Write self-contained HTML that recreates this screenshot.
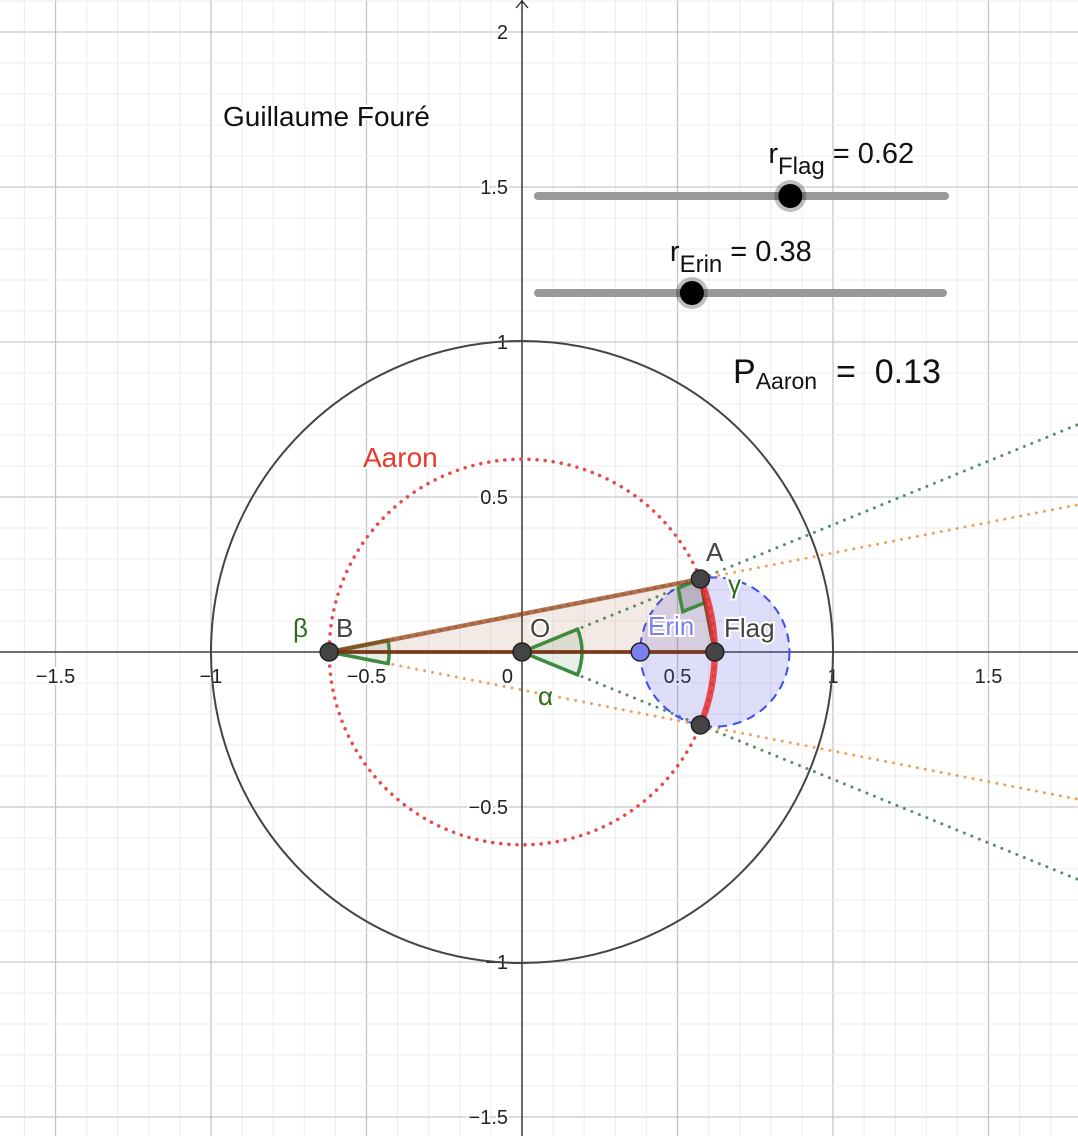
<!DOCTYPE html>
<html><head><meta charset="utf-8"><style>
html,body{margin:0;padding:0;background:#fff;}
svg{display:block;font-family:"Liberation Sans",sans-serif;}
</style></head><body>
<svg id="c" width="1078" height="1136" viewBox="0 0 1078 1136"></svg>
<script>
const rFlagVals=[0.62];
const rErinVals=[0.38];
const pAaronVals=[0.13];
const xTicks=[-1.5,-1,-0.5,0,0.5,1,1.5];
const yTicks=[-1.5,-1,-0.5,0.5,1,1.5,2];
const rFlag=rFlagVals[0], rErin=rErinVals[0], pAaron=pAaronVals[0];
const S=311, SY=310, OX=522, OY=652;
function X(x){return OX+x*S;}
function Y(y){return OY-y*SY;}
const svg=document.getElementById('c');
const NS='http://www.w3.org/2000/svg';
function el(t,a,p){const e=document.createElementNS(NS,t);for(const k in a)e.setAttribute(k,a[k]);(p||svg).appendChild(e);return e;}
const g=el('g',{});


for(let i=-17;i<=18;i++){const x=X(i/10);el('line',{x1:x,y1:0,x2:x,y2:1136,stroke:i%5==0?'#c6c6c6':'#ececec','stroke-width':i%5==0?1.3:1},g);}
for(let i=-16;i<=21;i++){const y=Y(i/10);el('line',{x1:0,y1:y,x2:1078,y2:y,stroke:i%5==0?'#c6c6c6':'#ececec','stroke-width':i%5==0?1.3:1},g);}
const ax=el('line',{x1:0,y1:OY,x2:1078,y2:OY,stroke:'#222','stroke-width':1.3});

const ay=el('line',{x1:OX,y1:0,x2:OX,y2:1136,stroke:'#222','stroke-width':1.3});

el('path',{d:`M${OX-6} 8 L${OX} 1 L${OX+6} 8`,fill:'none',stroke:'#222','stroke-width':1.3});
xTicks.forEach(v=>{const t=el('text',{x:v==0?X(v)-9:X(v),y:OY+31,'font-size':20,'text-anchor':v==0?'end':'middle',fill:'#222','paint-order':'stroke',stroke:'#fff','stroke-width':4});t.textContent=v==0?'0':String(v).replace('-','−');
});
yTicks.forEach(v=>{const t=el('text',{x:OX-14,y:Y(v)+7,'font-size':20,'text-anchor':'end',fill:'#222','paint-order':'stroke',stroke:'#fff','stroke-width':4});t.textContent=String(v).replace('-','−');
});
const rE=rFlag-rErin;
const ax_=(rFlag*rFlag+rFlag*rFlag-rE*rE)/(2*rFlag);
const ay_=Math.sqrt(rFlag*rFlag-ax_*ax_);
const A=[ax_,ay_],Am=[ax_,-ay_],B=[-rFlag,0],F=[rFlag,0],E=[rErin,0];
function ray(p,q,col,name){const dx=q[0]-p[0],dy=q[1]-p[1];const t=(1.8-p[0])/dx;
const l=el('line',{x1:X(p[0]),y1:Y(p[1]),x2:X(p[0]+dx*t),y2:Y(p[1]+dy*t),stroke:col,'stroke-width':3,'stroke-dasharray':'0.1 8','stroke-linecap':'round'});
}
ray([0,0],A,'#5a8f6e','ray-o-a');ray([0,0],Am,'#5a8f6e','ray-o-a2');
ray(B,A,'#f0a060','ray-b-a');ray(B,Am,'#f0a060','ray-b-a2');
const uc=el('circle',{cx:X(0),cy:Y(0),r:S,fill:'none',stroke:'#444','stroke-width':2});

const ac=el('circle',{cx:X(0),cy:Y(0),r:rFlag*S,fill:'none',stroke:'#e84a4a','stroke-width':3.5,'stroke-dasharray':'0.1 8','stroke-linecap':'round'});

const ec=el('circle',{cx:X(rFlag),cy:Y(0),r:rE*S,fill:'rgba(90,90,230,0.2)',stroke:'#3a4ef0','stroke-width':2,'stroke-dasharray':'9 6'});

const tri=el('polygon',{points:`${X(B[0])},${Y(0)} ${X(A[0])},${Y(A[1])} ${X(F[0])},${Y(0)}`,fill:'rgba(160,80,40,0.12)'});

function wedge(c,r,a1,a2,name){const x=X(c[0]),y=Y(c[1]);
const p=el('path',{d:`M${x} ${y} L${x+r*Math.cos(a1)} ${y-r*Math.sin(a1)} A${r} ${r} 0 0 0 ${x+r*Math.cos(a2)} ${y-r*Math.sin(a2)} Z`,fill:'rgba(60,130,60,0.12)',stroke:'#3f8a3f','stroke-width':3.5});
}
const aO=Math.atan2(A[1],A[0]);
wedge([0,0],60,-aO,aO,'angle-alpha');
const aB=Math.atan2(A[1],A[0]-B[0]);
wedge(B,60,-aB,aB,'angle-beta');
const pa=[X(A[0]),Y(A[1])];
const u1=[-Math.cos(aO),Math.sin(aO)];const v=[X(F[0])-pa[0],Y(0)-pa[1]];const vl=Math.hypot(v[0],v[1]);const u2=[v[0]/vl,v[1]/vl];
const k=24;
const ga=el('polygon',{points:`${pa[0]},${pa[1]} ${pa[0]+u1[0]*k},${pa[1]+u1[1]*k} ${pa[0]+u1[0]*k+u2[0]*k},${pa[1]+u1[1]*k+u2[1]*k} ${pa[0]+u2[0]*k},${pa[1]+u2[1]*k}`,fill:'rgba(100,100,100,0.25)',stroke:'#3f8a3f','stroke-width':3.5});

function seg(p,q,col,w,name){const l=el('line',{x1:X(p[0]),y1:Y(p[1]),x2:X(q[0]),y2:Y(q[1]),stroke:col,'stroke-width':w});
}
seg(B,A,'rgba(150,70,30,0.75)',4.5,'segment-b-a');
seg(B,F,'rgba(120,50,20,0.85)',4,'segment-b-flag');
seg(A,F,'rgba(120,50,20,0.85)',4,'segment-a-flag');
const arc=el('path',{d:`M${X(A[0])} ${Y(A[1])} A${rFlag*S} ${rFlag*S} 0 0 1 ${X(Am[0])} ${Y(Am[1])}`,fill:'none',stroke:'rgba(230,50,50,0.85)','stroke-width':6.5});

function pt(p,col,name){const c=el('circle',{cx:X(p[0]),cy:Y(p[1]),r:9,fill:col,stroke:'#222','stroke-width':1.5});
}
pt(B,'#444','point-b');pt([0,0],'#444','point-o');pt(E,'#7b7ff0','point-erin');pt(F,'#444','point-flag');pt(A,'#444','point-a');pt(Am,'#444','point-a2');
function lab(x,y,txt,col,size,name,anchor){const t=el('text',{x:x,y:y,fill:col,'font-size':size,'text-anchor':anchor||'start','paint-order':'stroke',stroke:'#fff','stroke-width':4});t.textContent=txt;
return t;}
lab(336,637,'B','#444',26,'label-b');
lab(530,637,'O','#444',26,'label-o');
lab(706,561,'A','#444',26,'label-a');
lab(724,637,'Flag','#444',26,'label-flag');
lab(648,635,'Erin','#7b7ff0',26,'label-erin');
lab(293,637,'β','#2d6a1e',26,'label-beta');
lab(538,705,'α','#2d6a1e',26,'label-alpha');
lab(728,593,'γ','#2d6a1e',26,'label-gamma');
lab(363,467,'Aaron','#e83a2a',28,'label-aaron');
lab(223,126,'Guillaume Fouré','#111',28,'author-label');
function slider(y,val,x0,x1,name){const l=el('line',{x1:x0,y1:y,x2:x1,y2:y,stroke:'#999','stroke-width':8,'stroke-linecap':'round'});

const kx=x0+val*(x1-x0);
el('circle',{cx:kx,cy:y,r:16,fill:'rgba(0,0,0,0.25)'});
const kn=el('circle',{cx:kx,cy:y,r:12,fill:'#000'});
return kx;}
const kf=slider(196,rFlag,538,945,'rflag-slider');
const ke=slider(293,rErin,538,943,'rerin-slider');
const t1=el('text',{x:kf-22,y:163,'font-size':29,fill:'#111'});t1.innerHTML=`r<tspan font-size="24" dy="11">Flag</tspan><tspan dy="-11"> = ${rFlag.toFixed(2)}</tspan>`;

const t2=el('text',{x:ke-22,y:261,'font-size':29,fill:'#111'});t2.innerHTML=`r<tspan font-size="24" dy="11">Erin</tspan><tspan dy="-11"> = ${rErin.toFixed(2)}</tspan>`;

const t3=el('text',{x:733,y:383,'font-size':34,fill:'#111'});t3.innerHTML=`P<tspan font-size="23" dy="6">Aaron</tspan><tspan dy="-6" xml:space="preserve">  =  ${pAaron.toFixed(2)}</tspan>`;
t3.setAttribute('xml:space','preserve');

</script>
</body></html>
